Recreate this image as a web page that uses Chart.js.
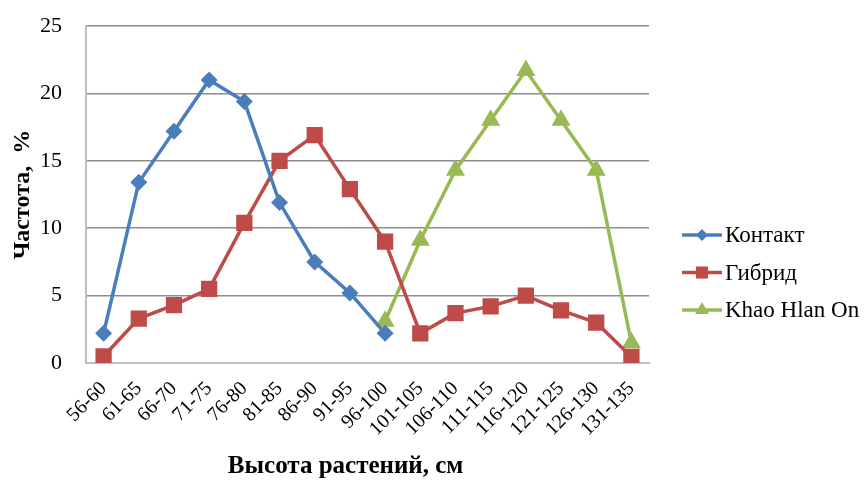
<!DOCTYPE html>
<html>
<head>
<meta charset="utf-8">
<script src="https://cdn.jsdelivr.net/npm/chart.js@4/dist/chart.umd.min.js"></script>
<style>
  html, body { margin: 0; padding: 0; background: #fff; }
  #wrap { width: 865px; height: 482px; }
</style>
</head>
<body>
<div id="wrap"><canvas id="heightChart"></canvas></div>
<script>
var categories = ['56-60', '61-65', '66-70', '71-75', '76-80', '81-85', '86-90', '91-95',
    '96-100', '101-105', '106-110', '111-115', '116-120', '121-125', '126-130', '131-135'];
var kontakt = [2.2, 13.4, 17.2, 21.0, 19.4, 11.9, 7.5, 5.2, 2.2,
    null, null, null, null, null, null, null];
var gibrid = [0.5, 3.3, 4.3, 5.5, 10.4, 15.0, 16.9, 12.9, 9.0,
    2.2, 3.7, 4.2, 5.0, 3.9, 3.0, 0.45];
var khaoHlanOn = [null, null, null, null, null, null, null, null, 3.1,
    9.1, 14.3, 18.0, 21.7, 18.0, 14.3, 1.5];
var yTicks = [0, 5, 10, 15, 20, 25];

var serif = '"Liberation Serif", "Times New Roman", serif';

// legend with line + marker, drawn on the right
var sideLegend = {
    id: 'sideLegend',
    afterDraw: function(chart) {
        var ctx = chart.ctx;
        var x0 = 682, y0 = 235, step = 37.5;
        chart.data.datasets.forEach(function(ds, i) {
            var y = y0 + i * step;
            ctx.save();
            ctx.strokeStyle = ds.borderColor;
            ctx.lineWidth = 3.5;
            ctx.beginPath();
            ctx.moveTo(x0, y);
            ctx.lineTo(x0 + 40, y);
            ctx.stroke();
            ctx.fillStyle = ds.borderColor;
            Chart.helpers.drawPoint(ctx, {
                pointStyle: ds.pointStyle,
                radius: ds.legendRadius,
                rotation: 0,
                borderWidth: 0
            }, x0 + 20, y);
            ctx.fillStyle = '#000';
            ctx.font = '23px ' + serif;
            ctx.textBaseline = 'middle';
            ctx.fillText(ds.label, x0 + 43, y + 1);
            ctx.restore();
        });
    }
};

// trailing nbsp pushes the centred title a bit to the left, like the original
var xTitle = 'Высота растений, см' + '\u00A0\u00A0\u00A0\u00A0\u00A0\u00A0\u00A0';

var ctx = document.getElementById('heightChart').getContext('2d');
var heightChart = new Chart(ctx, {
    type: 'line',
    data: {
        labels: categories,
        datasets: [{
            label: 'Контакт',
            data: kontakt,
            borderColor: '#4A7EBB',
            backgroundColor: '#4A7EBB',
            borderWidth: 3.5,
            pointStyle: 'rectRot',
            pointRadius: 8.5,
            legendRadius: 6,
            pointBorderWidth: 0,
            tension: 0
        }, {
            label: 'Гибрид',
            data: gibrid,
            borderColor: '#BE4B48',
            backgroundColor: '#BE4B48',
            borderWidth: 3.5,
            pointStyle: 'rect',
            pointRadius: 11.5,
            legendRadius: 8.5,
            pointBorderWidth: 0,
            tension: 0
        }, {
            label: 'Khao Hlan On',
            data: khaoHlanOn,
            borderColor: '#98B954',
            backgroundColor: '#98B954',
            borderWidth: 3.5,
            pointStyle: 'triangle',
            pointRadius: 11,
            legendRadius: 8,
            pointBorderWidth: 0,
            tension: 0
        }]
    },
    options: {
        responsive: true,
        maintainAspectRatio: false,
        animation: false,
        layout: { padding: { top: 26, right: 216, left: 0, bottom: 0 } },
        plugins: {
            legend: { display: false },
            tooltip: { enabled: false }
        },
        scales: {
            x: {
                offset: true,
                afterFit: function(axis) {
                    axis.height = 119;
                    axis.paddingLeft = 0;
                    axis.paddingRight = 0;
                },
                grid: {
                    offset: true,
                    display: false
                },
                border: { color: '#BFBFBF', width: 2 },
                ticks: {
                    color: '#000',
                    font: { family: serif, size: 20 },
                    minRotation: 45,
                    maxRotation: 45,
                    autoSkip: false,
                    padding: 6
                },
                title: {
                    display: true,
                    text: xTitle,
                    color: '#000',
                    font: { family: serif, size: 25, weight: 'bold' },
                    padding: { top: 0, bottom: 0 }
                }
            },
            y: {
                min: 0,
                max: 25,
                afterFit: function(axis) {
                    axis.width = 86;
                    axis.paddingTop = 0;
                    axis.paddingBottom = 0;
                },
                afterBuildTicks: function(axis) {
                    axis.ticks = yTicks.map(function(v) { return { value: v }; });
                },
                grid: {
                    color: '#8C8C8C',
                    lineWidth: 1.5,
                    drawTicks: false
                },
                border: { color: '#BFBFBF', width: 2 },
                ticks: {
                    color: '#000',
                    font: { family: serif, size: 22 },
                    padding: 24
                },
                title: {
                    display: true,
                    text: 'Частота,  %',
                    color: '#000',
                    font: { family: serif, size: 24, weight: 'bold' },
                    padding: { top: 8, bottom: 0 }
                }
            }
        }
    },
    plugins: [sideLegend]
});
</script>
</body>
</html>
